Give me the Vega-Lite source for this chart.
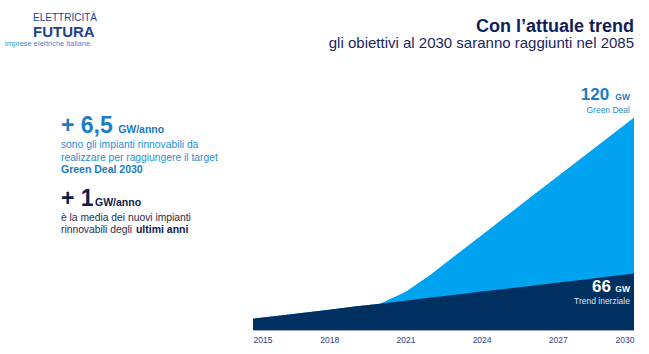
{
  "$schema": "https://vega.github.io/schema/vega-lite/v6.json",
  "autosize": {"type": "none"},
  "padding": {"left": 253, "top": 77, "right": 15, "bottom": 24},
  "width": 381,
  "height": 253,
  "background": "white",
  "config": {
    "view": {"stroke": null},
    "font": "Liberation Sans",
    "text": {"font": "Liberation Sans", "baseline": "alphabetic"}
  },
  "layer": [
    {
      "data": {"values": [
        {"year": 2015, "gw": 50.4},
        {"year": 2016, "gw": 51.4},
        {"year": 2017, "gw": 52.5},
        {"year": 2018, "gw": 53.5},
        {"year": 2019, "gw": 54.6},
        {"year": 2020, "gw": 55.6},
        {"year": 2021, "gw": 59.6},
        {"year": 2022, "gw": 65.7},
        {"year": 2023, "gw": 72.5},
        {"year": 2024, "gw": 79.3},
        {"year": 2025, "gw": 86.1},
        {"year": 2026, "gw": 92.9},
        {"year": 2027, "gw": 99.7},
        {"year": 2028, "gw": 106.4},
        {"year": 2029, "gw": 113.2},
        {"year": 2030, "gw": 120}
      ]},
      "mark": {"type": "area", "color": "#00a3f0", "clip": true},
      "encoding": {
        "x": {"field": "year", "type": "quantitative",
          "scale": {"domain": [2015, 2030], "nice": false},
          "axis": {"values": [2015, 2018, 2021, 2024, 2027, 2030], "format": "d", "title": null,
            "grid": false, "ticks": false, "tickSize": 0, "labelPadding": 5, "labelFlush": true,
            "labelFont": "Liberation Sans", "labelFontSize": 8.5, "labelColor": "#2d3d8a",
            "domain": true, "domainColor": "#9aaac6", "domainWidth": 1, "zindex": 1}},
        "y": {"field": "gw", "type": "quantitative",
          "scale": {"domain": [46.5, 134], "zero": false, "nice": false},
          "axis": null}
      }
    },
    {
      "data": {"values": [
        {"year": 2015, "gw": 50.4},
        {"year": 2016, "gw": 51.4},
        {"year": 2017, "gw": 52.5},
        {"year": 2018, "gw": 53.5},
        {"year": 2019, "gw": 54.6},
        {"year": 2020, "gw": 55.6},
        {"year": 2021, "gw": 56.6},
        {"year": 2022, "gw": 57.7},
        {"year": 2023, "gw": 58.7},
        {"year": 2024, "gw": 59.8},
        {"year": 2025, "gw": 60.8},
        {"year": 2026, "gw": 61.8},
        {"year": 2027, "gw": 62.9},
        {"year": 2028, "gw": 63.9},
        {"year": 2029, "gw": 65.0},
        {"year": 2030, "gw": 66}
      ]},
      "mark": {"type": "area", "color": "#00305f", "clip": true},
      "encoding": {
        "x": {"field": "year", "type": "quantitative"},
        "y": {"field": "gw", "type": "quantitative"}
      }
    },
    {
      "data": {"values": [{"label": "Con l’attuale trend", "x": 2030, "y": 149.67}]},
      "mark": {"type": "text", "align": "right", "fontSize": 18, "fontWeight": "bold", "color": "#111d5a"},
      "encoding": {"x": {"field": "x", "type": "quantitative"}, "y": {"field": "y", "type": "quantitative"}, "text": {"field": "label"}}
    },
    {
      "data": {"values": [{"label": "gli obiettivi al 2030 saranno raggiunti nel 2085", "x": 2030, "y": 144.03}]},
      "mark": {"type": "text", "align": "right", "fontSize": 15, "color": "#1a2560"},
      "encoding": {"x": {"field": "x", "type": "quantitative"}, "y": {"field": "y", "type": "quantitative"}, "text": {"field": "label"}}
    },
    {
      "data": {"values": [{"label": "+ 6,5", "x": 2007.44, "y": 114.6}]},
      "mark": {"type": "text", "align": "left", "fontSize": 23, "fontWeight": "bold", "color": "#1b7dc4"},
      "encoding": {"x": {"field": "x", "type": "quantitative"}, "y": {"field": "y", "type": "quantitative"}, "text": {"field": "label"}}
    },
    {
      "data": {"values": [
        {"label": "GW/anno", "x": 2009.69, "y": 114.6},
        {"label": "Green Deal 2030", "x": 2007.44, "y": 100.8}
      ]},
      "mark": {"type": "text", "align": "left", "fontSize": 10.5, "fontWeight": "bold", "color": "#1779c4"},
      "encoding": {"x": {"field": "x", "type": "quantitative"}, "y": {"field": "y", "type": "quantitative"}, "text": {"field": "label"}}
    },
    {
      "data": {"values": [
        {"label": "sono gli impianti rinnovabili da", "x": 2007.44, "y": 109.6},
        {"label": "realizzare per raggiungere il target", "x": 2007.44, "y": 105.1}
      ]},
      "mark": {"type": "text", "align": "left", "fontSize": 10.3, "color": "#2290d8"},
      "encoding": {"x": {"field": "x", "type": "quantitative"}, "y": {"field": "y", "type": "quantitative"}, "text": {"field": "label"}}
    },
    {
      "data": {"values": [{"label": "+ 1", "x": 2007.44, "y": 89.4}]},
      "mark": {"type": "text", "align": "left", "fontSize": 23, "fontWeight": "bold", "color": "#0e1c52"},
      "encoding": {"x": {"field": "x", "type": "quantitative"}, "y": {"field": "y", "type": "quantitative"}, "text": {"field": "label"}}
    },
    {
      "data": {"values": [
        {"label": "GW/anno", "x": 2008.78, "y": 89.4},
        {"label": "ultimi anni", "x": 2010.39, "y": 80.05}
      ]},
      "mark": {"type": "text", "align": "left", "fontSize": 10.5, "fontWeight": "bold", "color": "#0e1c52"},
      "encoding": {"x": {"field": "x", "type": "quantitative"}, "y": {"field": "y", "type": "quantitative"}, "text": {"field": "label"}}
    },
    {
      "data": {"values": [
        {"label": "è la media dei nuovi impianti", "x": 2007.44, "y": 84.2},
        {"label": "rinnovabili degli", "x": 2007.44, "y": 80.05}
      ]},
      "mark": {"type": "text", "align": "left", "fontSize": 10.3, "color": "#262a4c"},
      "encoding": {"x": {"field": "x", "type": "quantitative"}, "y": {"field": "y", "type": "quantitative"}, "text": {"field": "label"}}
    },
    {
      "data": {"values": [{"label": "120", "x": 2029.02, "y": 126.05}]},
      "mark": {"type": "text", "align": "right", "fontSize": 17, "fontWeight": "bold", "color": "#1b7dc4"},
      "encoding": {"x": {"field": "x", "type": "quantitative"}, "y": {"field": "y", "type": "quantitative"}, "text": {"field": "label"}}
    },
    {
      "data": {"values": [{"label": "GW", "x": 2029.84, "y": 126.05}]},
      "mark": {"type": "text", "align": "right", "fontSize": 8.5, "fontWeight": "bold", "color": "#1b7dc4"},
      "encoding": {"x": {"field": "x", "type": "quantitative"}, "y": {"field": "y", "type": "quantitative"}, "text": {"field": "label"}}
    },
    {
      "data": {"values": [{"label": "Green Deal", "x": 2029.84, "y": 121.55}]},
      "mark": {"type": "text", "align": "right", "fontSize": 8.5, "color": "#2a8ad0"},
      "encoding": {"x": {"field": "x", "type": "quantitative"}, "y": {"field": "y", "type": "quantitative"}, "text": {"field": "label"}}
    },
    {
      "data": {"values": [{"label": "66", "x": 2029.09, "y": 59.64}]},
      "mark": {"type": "text", "align": "right", "fontSize": 17, "fontWeight": "bold", "color": "#ffffff"},
      "encoding": {"x": {"field": "x", "type": "quantitative"}, "y": {"field": "y", "type": "quantitative"}, "text": {"field": "label"}}
    },
    {
      "data": {"values": [{"label": "GW", "x": 2029.84, "y": 59.64}]},
      "mark": {"type": "text", "align": "right", "fontSize": 8.5, "fontWeight": "bold", "color": "#ffffff"},
      "encoding": {"x": {"field": "x", "type": "quantitative"}, "y": {"field": "y", "type": "quantitative"}, "text": {"field": "label"}}
    },
    {
      "data": {"values": [{"label": "Trend inerziale", "x": 2029.84, "y": 55.5}]},
      "mark": {"type": "text", "align": "right", "fontSize": 8.5, "color": "#dfe5ef"},
      "encoding": {"x": {"field": "x", "type": "quantitative"}, "y": {"field": "y", "type": "quantitative"}, "text": {"field": "label"}}
    },
    {
      "data": {"values": [{"label": "ELETTRICITÀ", "x": 2006.34, "y": 153.37}]},
      "mark": {"type": "text", "align": "left", "fontSize": 10, "color": "#1d3f8f"},
      "encoding": {"x": {"field": "x", "type": "quantitative"}, "y": {"field": "y", "type": "quantitative"}, "text": {"field": "label"}}
    },
    {
      "data": {"values": [{"label": "FUTURA", "x": 2006.34, "y": 147.83}]},
      "mark": {"type": "text", "align": "left", "fontSize": 15, "fontWeight": "bold", "color": "#1d3f8f"},
      "encoding": {"x": {"field": "x", "type": "quantitative"}, "y": {"field": "y", "type": "quantitative"}, "text": {"field": "label"}}
    },
    {
      "data": {"values": [{"label": "imprese elettriche italiane", "x": 2005.24, "y": 144.72}]},
      "mark": {"type": "text", "align": "left", "fontSize": 7.5, "color": "#3b8fd0"},
      "encoding": {"x": {"field": "x", "type": "quantitative"}, "y": {"field": "y", "type": "quantitative"}, "text": {"field": "label"}}
    }
  ]
}
